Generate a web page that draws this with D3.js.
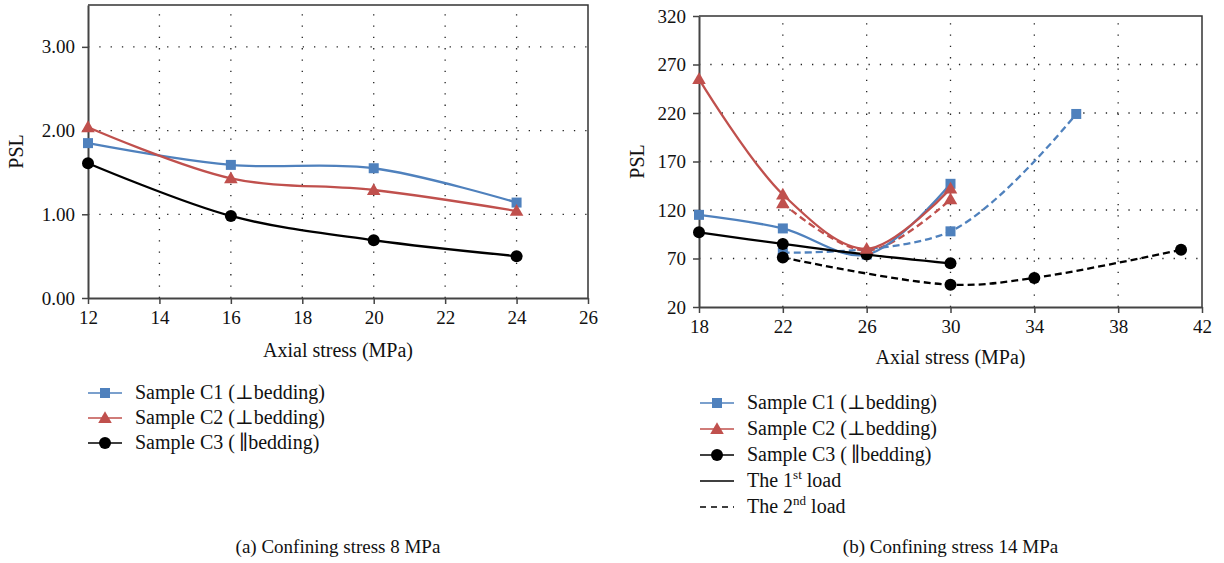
<!DOCTYPE html>
<html>
<head>
<meta charset="utf-8">
<script src="https://cdn.jsdelivr.net/npm/d3@7"></script>
<style>
  body { margin: 0; background: #fff; }
  svg { display: block; }
  text { font-family: "Liberation Serif", "DejaVu Serif", serif; fill: #111; }
</style>
</head>
<body>
<svg id="chart" width="1224" height="563"></svg>
<script>
// ---- data, panel (a): confining stress 8 MPa
const stressA = [12, 16, 20, 24];
const c1A = [1.85, 1.59, 1.55, 1.14];
const c2A = [2.04, 1.43, 1.29, 1.04];
const c3A = [1.61, 0.98, 0.69, 0.50];
const xTicksA = [12, 14, 16, 18, 20, 22, 24, 26];
const yTicksA = [0, 1, 2, 3];

// ---- data, panel (b): confining stress 14 MPa
const stressB1 = [18, 22, 26, 30];
const c1B1 = [115, 101, 74, 147];
const c2B1 = [255, 136, 80, 142];
const c3B1 = [97, 85, 74, 65];
const stressC1B2 = [22, 30, 36];
const c1B2 = [76, 98, 219];
const stressC2B2 = [22, 26, 30];
const c2B2 = [127, 78, 131];
const stressC3B2 = [22, 30, 34, 41];
const c3B2 = [71, 43, 50, 79];
const xTicksB = [18, 22, 26, 30, 34, 38, 42];
const yTicksB = [20, 70, 120, 170, 220, 270, 320];

const BLUE = "#4f81bd";
const RED = "#c0504d";
const BLACK = "#000";
const TICK_FONT = 19;
const FONT = 20;

const svg = d3.select("#chart");

function marker(g, type, color, x, y) {
  if (type === "square") {
    g.append("rect").attr("x", x - 5).attr("y", y - 5)
      .attr("width", 10).attr("height", 10).attr("fill", color);
  } else if (type === "triangle") {
    g.append("path")
      .attr("d", d3.symbol(d3.symbolTriangle, 80)())
      .attr("transform", `translate(${x},${y + 1})`)
      .attr("fill", color);
  } else {
    g.append("circle").attr("cx", x).attr("cy", y).attr("r", 6).attr("fill", color);
  }
}

function panel(cfg) {
  const x = d3.scaleLinear().domain(cfg.xDomain).range(cfg.xRange);
  const y = d3.scaleLinear().domain(cfg.yDomain).range(cfg.yRange);
  const g = svg.append("g");
  const [x0, x1] = cfg.xRange;
  const [y0, y1] = cfg.yRange;

  // dotted grid
  g.append("g").selectAll("line")
    .data(cfg.xTicks.slice(1, -1))
    .join("line")
    .attr("x1", d => x(d)).attr("x2", d => x(d))
    .attr("y1", y0).attr("y2", y1)
    .attr("stroke", "#222").attr("stroke-width", 1.3)
    .attr("stroke-dasharray", "1.3,10");
  g.append("g").selectAll("line")
    .data(cfg.yTicks.filter(v => v !== cfg.yDomain[0] && v !== cfg.yDomain[1]))
    .join("line")
    .attr("x1", x0).attr("x2", x1)
    .attr("y1", d => y(d)).attr("y2", d => y(d))
    .attr("stroke", "#222").attr("stroke-width", 1.3)
    .attr("stroke-dasharray", "1.3,10");

  // frame
  g.append("path")
    .attr("d", `M${x0},${y1}H${x1}V${y0}`)
    .attr("fill", "none").attr("stroke", "#333").attr("stroke-width", 1.5);

  const xAxis = g.append("g")
    .attr("transform", `translate(0,${y0})`)
    .call(d3.axisBottom(x).tickValues(cfg.xTicks).tickSize(6).tickSizeOuter(0).tickFormat(d3.format("d")));
  const yAxis = g.append("g")
    .attr("transform", `translate(${x0},0)`)
    .call(d3.axisLeft(y).tickValues(cfg.yTicks).tickSize(6).tickPadding(7).tickSizeOuter(0).tickFormat(cfg.yFormat));
  [xAxis, yAxis].forEach(a => {
    a.attr("font-family", null);
    a.select(".domain").attr("stroke", "#444").attr("stroke-width", 2);
    a.selectAll(".tick line").attr("stroke", "#444").attr("stroke-width", 1.5);
    a.selectAll(".tick text").attr("font-size", TICK_FONT).attr("fill", "#111");
  });
  xAxis.selectAll(".tick text").attr("dy", "0.9em");

  // axis titles
  g.append("text")
    .attr("x", (x0 + x1) / 2).attr("y", cfg.xTitleY)
    .attr("text-anchor", "middle").attr("font-size", FONT)
    .text("Axial stress (MPa)");
  g.append("text")
    .attr("transform", `translate(${cfg.yTitleX},${(y0 + y1) / 2}) rotate(-90)`)
    .attr("text-anchor", "middle").attr("font-size", FONT)
    .text("PSL");

  // series
  const line = d3.line()
    .x(d => x(d[0])).y(d => y(d[1]))
    .curve(d3.curveCatmullRom.alpha(0.5));
  cfg.series.forEach(s => {
    const pts = s.xs.map((v, i) => [v, s.ys[i]]);
    g.append("path")
      .attr("d", line(pts))
      .attr("fill", "none")
      .attr("stroke", s.color)
      .attr("stroke-width", 2.3)
      .attr("stroke-dasharray", s.dashed ? "7,4" : null);
    pts.forEach(p => marker(g, s.marker, s.color, x(p[0]), y(p[1])));
  });

  // caption
  g.append("text")
    .attr("x", (x0 + x1) / 2).attr("y", cfg.captionY)
    .attr("text-anchor", "middle").attr("font-size", 19)
    .text(cfg.caption);

  // legend
  const lg = g.append("g");
  cfg.legend.forEach((item, i) => {
    const yy = cfg.legendY + i * cfg.legendStep;
    const lx = cfg.legendX;
    lg.append("line")
      .attr("x1", lx).attr("x2", lx + 34)
      .attr("y1", yy).attr("y2", yy)
      .attr("stroke", item.color)
      .attr("stroke-width", 1.5)
      .attr("stroke-dasharray", item.dashed ? "6,5" : null);
    if (item.marker) marker(lg, item.marker, item.color, lx + 17, yy);
    const t = lg.append("text")
      .attr("x", lx + 47).attr("y", yy + 6)
      .attr("font-size", FONT);
    item.parts.forEach(p => {
      const ts = t.append("tspan").text(p.text);
      if (p.sup) ts.attr("font-size", 13).attr("dy", -8);
      if (p.after) ts.attr("dy", 8);
    });
  });
}

const sampleLegend = [
  { color: BLUE, marker: "square", parts: [{ text: "Sample C1 (\u22a5bedding)" }] },
  { color: RED, marker: "triangle", parts: [{ text: "Sample C2 (\u22a5bedding)" }] },
  { color: BLACK, marker: "circle", parts: [{ text: "Sample C3 (\u2009\u2225bedding)" }] }
];

panel({
  xDomain: [12, 26], xRange: [88, 588],
  yDomain: [0, 3.5], yRange: [298, 5],
  xTicks: xTicksA, yTicks: yTicksA,
  yFormat: d3.format(".2f"),
  xTitleY: 357, yTitleX: 23,
  caption: "(a) Confining stress 8 MPa", captionY: 553,
  legendX: 88, legendY: 393, legendStep: 25,
  legend: sampleLegend,
  series: [
    { xs: stressA, ys: c1A, color: BLUE, marker: "square" },
    { xs: stressA, ys: c2A, color: RED, marker: "triangle" },
    { xs: stressA, ys: c3A, color: BLACK, marker: "circle" }
  ]
});

panel({
  xDomain: [18, 42], xRange: [699, 1202],
  yDomain: [20, 320], yRange: [307, 16],
  xTicks: xTicksB, yTicks: yTicksB,
  yFormat: d3.format("d"),
  xTitleY: 364, yTitleX: 644,
  caption: "(b) Confining stress 14 MPa", captionY: 553,
  legendX: 700, legendY: 403, legendStep: 26,
  legend: sampleLegend.concat([
    { color: BLACK, parts: [{ text: "The 1" }, { text: "st", sup: true }, { text: " load", after: true }] },
    { color: BLACK, dashed: true, parts: [{ text: "The 2" }, { text: "nd", sup: true }, { text: " load", after: true }] }
  ]),
  series: [
    { xs: stressC1B2, ys: c1B2, color: BLUE, marker: "square", dashed: true },
    { xs: stressC3B2, ys: c3B2, color: BLACK, marker: "circle", dashed: true },
    { xs: stressC2B2, ys: c2B2, color: RED, marker: "triangle", dashed: true },
    { xs: stressB1, ys: c1B1, color: BLUE, marker: "square" },
    { xs: stressB1, ys: c3B1, color: BLACK, marker: "circle" },
    { xs: stressB1, ys: c2B1, color: RED, marker: "triangle" }
  ]
});
</script>
</body>
</html>
